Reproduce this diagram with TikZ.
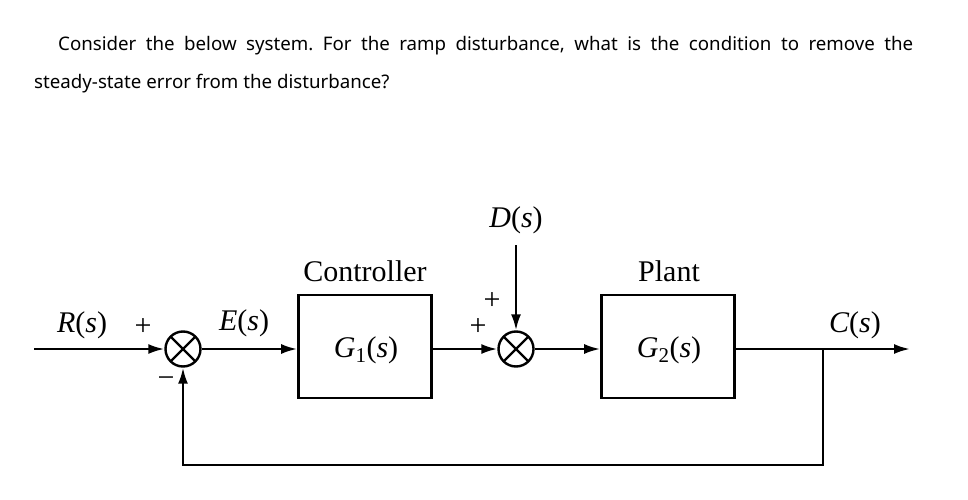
\documentclass[tikz,border=0pt]{standalone}
\usepackage{fontspec}
\setmainfont{Noto Sans}
\newfontfamily\tms{Liberation Serif}
\usetikzlibrary{arrows.meta}
\newcommand{\fn}[2]{{\itshape #1}#2(\textit{s})}
\frenchspacing
\begin{document}
\begin{tikzpicture}[x=1pt,y=-1pt,
  lbl/.style={font=\tms\fontsize{30}{34}\selectfont, inner sep=0},
  blk/.style={draw, line width=2.6pt, minimum width=133pt, minimum height=103pt, inner sep=0},
  sum/.style={draw, circle, line width=2.4pt, minimum size=35pt, inner sep=0, path picture={
    \draw[line width=2.4pt] (path picture bounding box.north west)--(path picture bounding box.south east)
      (path picture bounding box.north east)--(path picture bounding box.south west);}},
  ar/.style={line width=2.4pt, -{Latex[length=16pt,width=10pt]}}]
\useasboundingbox (0,0) rectangle (968,500);
\node[anchor=base west, inner sep=0, font=\fontsize{18.7}{22}\selectfont] (q1) at (58,51) {\makebox[855pt][s]{Consider the below system. For the ramp disturbance, what is the condition to remove the}};
\node[anchor=base west, inner sep=0, font=\fontsize{18.7}{22}\selectfont] (q2) at (34,89) {steady-state error from the disturbance?};
\node[sum] (s1) at (183,349) {};
\node[sum] (s2) at (516,349) {};
\node[blk] (b1) at (365,346.5) {};
\node[blk] (b2) at (668,346.5) {};
\node[lbl] (g1) at (366,350) {\fn{G}{\textsubscript{1}}};
\node[lbl] (g2) at (669,350) {\fn{G}{\textsubscript{2}}};
\node[lbl] (ct) at (365,271) {Controller};
\node[lbl] (pl) at (669,271) {Plant};
\node[lbl] (r) at (82,325) {\fn{R}{}};
\node[lbl] (e) at (244,323) {\fn{E}{}};
\node[lbl] (d) at (516,220) {\fn{D}{}};
\node[lbl] (c) at (855,325) {\fn{C}{}};
\node[lbl] (p1) at (143,327) {+};
\node[lbl] (m1) at (166,382) {\textminus};
\node[lbl] (p2) at (492,301) {+};
\node[lbl] (p3) at (478,327) {+};
\coordinate (rin) at (34,349);
\coordinate (dtop) at (516,245);
\coordinate (cout) at (910,349);
\coordinate (fb) at (823,349);
\draw[ar] (rin) -- (s1.west);
\draw[ar] (s1.east) -- (b1.west |- s1.east);
\draw[ar] (b1.east |- s2.west) -- (s2.west);
\draw[ar] (dtop) -- (s2.north);
\draw[ar] (s2.east) -- (b2.west |- s2.east);
\draw[ar] (b2.east |- cout) -- (cout);
\draw[ar] (fb) -- (823,465) -- (183,465) -- (s1.south);
\end{tikzpicture}
\end{document}
